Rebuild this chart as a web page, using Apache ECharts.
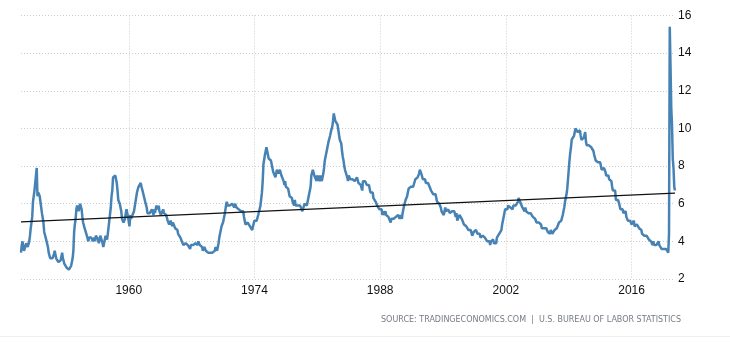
<!DOCTYPE html>
<html>
<head>
<meta charset="utf-8">
<script src="https://cdn.jsdelivr.net/npm/echarts@6/dist/echarts.min.js"></script>
<style>
html,body{margin:0;padding:0;background:#fff;}
#c{width:730px;height:343px;}
</style>
</head>
<body>
<div id="c"></div>
<script>
// Monthly US unemployment rate (%), Jan 1948 - Nov 2020
const startYear = 1948;
const r1940s = [
 3.4,3.8,4.0,3.9,3.5,3.6,3.6,3.9,3.8,3.7,3.8,4.0,
 4.3,4.7,5.0,5.3,6.1,6.2,6.7,6.8,6.6,7.9,6.4,6.6];
const r1950s = [
 6.5,6.4,6.3,5.8,5.5,5.4,5.0,4.5,4.4,4.2,4.2,4.3,
 3.7,3.4,3.4,3.1,3.0,3.2,3.1,3.1,3.3,3.5,3.5,3.1,
 3.2,3.1,2.9,2.9,3.0,3.0,3.2,3.4,3.1,3.0,2.8,2.7,
 2.9,2.6,2.6,2.7,2.5,2.5,2.6,2.7,2.9,3.1,3.5,4.5,
 4.9,5.2,5.7,5.9,5.9,5.6,5.8,6.0,6.1,5.7,5.3,5.0,
 4.9,4.7,4.6,4.7,4.3,4.2,4.0,4.2,4.1,4.3,4.2,4.2,
 4.0,3.9,4.2,4.0,4.3,4.3,4.4,4.1,3.9,3.9,4.3,4.2,
 4.2,3.9,3.7,3.9,4.1,4.3,4.2,4.1,4.4,4.5,5.1,5.2,
 5.8,6.4,6.7,7.4,7.4,7.3,7.5,7.4,7.1,6.7,6.2,6.2,
 6.0,5.9,5.6,5.2,5.1,5.0,5.1,5.2,5.5,5.7,5.8,5.3];
const r1960s = [
 5.2,4.8,5.4,5.2,5.1,5.4,5.5,5.6,5.5,6.1,6.1,6.6,
 6.6,6.9,6.9,7.0,7.1,6.9,7.0,6.6,6.7,6.5,6.1,6.0,
 5.8,5.5,5.6,5.6,5.5,5.5,5.4,5.7,5.6,5.4,5.7,5.5,
 5.7,5.9,5.7,5.7,5.9,5.6,5.6,5.4,5.5,5.5,5.7,5.5,
 5.6,5.4,5.4,5.3,5.1,5.2,4.9,5.0,5.1,5.1,4.8,5.0,
 4.9,5.1,4.7,4.8,4.6,4.6,4.4,4.4,4.3,4.2,4.1,4.0,
 4.0,3.8,3.8,3.8,3.9,3.8,3.8,3.8,3.7,3.7,3.6,3.8,
 3.9,3.8,3.8,3.8,3.8,3.9,3.8,3.8,3.8,4.0,3.9,3.8,
 3.7,3.8,3.7,3.5,3.5,3.7,3.7,3.5,3.4,3.4,3.4,3.4,
 3.4,3.4,3.4,3.4,3.4,3.5,3.5,3.5,3.7,3.7,3.5,3.5];
const r1970s = [
 3.9,4.2,4.4,4.6,4.8,4.9,5.0,5.1,5.4,5.5,5.9,6.1,
 5.9,5.9,6.0,5.9,5.9,5.9,6.0,6.1,6.0,5.8,6.0,6.0,
 5.8,5.7,5.8,5.7,5.7,5.7,5.6,5.6,5.5,5.6,5.3,5.2,
 4.9,5.0,4.9,5.0,4.9,4.9,4.8,4.8,4.8,4.6,4.8,4.9,
 5.1,5.2,5.1,5.1,5.1,5.4,5.5,5.5,5.9,6.0,6.6,7.2,
 8.1,8.1,8.6,8.8,9.0,8.8,8.6,8.4,8.4,8.4,8.3,8.2,
 7.9,7.7,7.6,7.7,7.4,7.6,7.8,7.8,7.6,7.7,7.8,7.8,
 7.5,7.6,7.4,7.2,7.0,7.2,6.9,7.0,6.8,6.8,6.8,6.4,
 6.4,6.3,6.3,6.1,6.0,5.9,6.2,5.9,6.0,5.8,5.9,6.0,
 5.9,5.9,5.8,5.8,5.6,5.7,5.7,6.0,5.9,6.0,5.9,6.0];
const r1980s = [
 6.3,6.3,6.3,6.9,7.5,7.6,7.8,7.7,7.5,7.5,7.5,7.2,
 7.5,7.4,7.4,7.2,7.5,7.5,7.2,7.4,7.6,7.9,8.3,8.5,
 8.6,8.9,9.0,9.3,9.4,9.6,9.8,9.8,10.1,10.4,10.8,10.8,
 10.4,10.4,10.3,10.2,10.1,10.1,9.4,9.5,9.2,8.8,8.5,8.3,
 8.0,7.8,7.8,7.7,7.4,7.2,7.5,7.5,7.3,7.4,7.2,7.3,
 7.3,7.2,7.2,7.3,7.2,7.4,7.4,7.1,7.1,7.1,7.0,7.0,
 6.7,7.2,7.2,7.1,7.2,7.2,7.0,6.9,7.0,7.0,6.9,6.6,
 6.6,6.6,6.6,6.3,6.3,6.2,6.1,6.0,5.9,6.0,5.8,5.7,
 5.7,5.7,5.7,5.4,5.6,5.4,5.4,5.6,5.4,5.4,5.3,5.3,
 5.4,5.2,5.0,5.2,5.2,5.3,5.2,5.2,5.3,5.3,5.4,5.4];
const r1990s = [
 5.4,5.3,5.2,5.4,5.4,5.2,5.5,5.7,5.9,5.9,6.2,6.3,
 6.4,6.6,6.8,6.7,6.9,6.9,6.8,6.9,6.9,7.0,7.0,7.3,
 7.3,7.4,7.4,7.4,7.6,7.8,7.7,7.6,7.6,7.3,7.4,7.4,
 7.3,7.1,7.0,7.1,7.1,7.0,6.9,6.8,6.7,6.8,6.6,6.5,
 6.6,6.6,6.5,6.4,6.1,6.1,6.1,6.0,5.9,5.8,5.6,5.5,
 5.6,5.4,5.4,5.8,5.6,5.6,5.7,5.7,5.6,5.5,5.6,5.6,
 5.6,5.5,5.5,5.6,5.6,5.3,5.5,5.1,5.2,5.2,5.4,5.4,
 5.3,5.2,5.2,5.1,4.9,5.0,4.9,4.8,4.9,4.7,4.6,4.7,
 4.6,4.6,4.7,4.3,4.4,4.5,4.5,4.5,4.6,4.5,4.4,4.4,
 4.3,4.4,4.2,4.3,4.2,4.3,4.3,4.2,4.2,4.1,4.1,4.0];
const r2000s = [
 4.0,4.1,4.0,3.8,4.0,4.0,4.0,4.1,3.9,3.9,3.9,3.9,
 4.2,4.2,4.3,4.4,4.3,4.5,4.6,4.9,5.0,5.3,5.5,5.7,
 5.7,5.7,5.7,5.9,5.8,5.8,5.8,5.7,5.7,5.7,5.9,6.0,
 5.8,5.9,5.9,6.0,6.1,6.3,6.2,6.1,6.1,6.0,5.8,5.7,
 5.7,5.6,5.8,5.6,5.6,5.6,5.5,5.4,5.4,5.5,5.4,5.4,
 5.3,5.4,5.2,5.2,5.1,5.0,5.0,4.9,5.0,5.0,5.0,4.9,
 4.7,4.8,4.7,4.7,4.6,4.6,4.7,4.7,4.5,4.4,4.5,4.4,
 4.6,4.5,4.4,4.5,4.4,4.6,4.7,4.6,4.7,4.7,4.7,5.0,
 5.0,4.9,5.1,5.0,5.4,5.6,5.8,6.1,6.1,6.5,6.8,7.3,
 7.8,8.3,8.7,9.0,9.4,9.5,9.5,9.6,9.8,10.0,9.9,9.9];
const r2010s = [
 9.8,9.8,9.9,9.9,9.6,9.4,9.4,9.5,9.5,9.4,9.8,9.3,
 9.1,9.0,9.0,9.1,9.0,9.1,9.0,9.0,9.0,8.8,8.6,8.5,
 8.3,8.3,8.2,8.2,8.2,8.2,8.2,8.0,7.8,7.8,7.7,7.9,
 8.0,7.7,7.5,7.6,7.5,7.5,7.3,7.2,7.2,7.2,6.9,6.7,
 6.6,6.7,6.7,6.2,6.3,6.1,6.2,6.1,5.9,5.7,5.8,5.6,
 5.7,5.5,5.4,5.4,5.6,5.3,5.2,5.1,5.0,5.0,5.1,5.0,
 4.9,4.9,5.0,5.1,4.8,4.9,4.8,4.9,5.0,4.9,4.7,4.7,
 4.7,4.6,4.4,4.4,4.4,4.3,4.3,4.4,4.3,4.2,4.2,4.1,
 4.0,4.1,4.0,4.0,3.8,4.0,3.8,3.8,3.7,3.8,3.8,3.9,
 4.0,3.8,3.8,3.7,3.6,3.6,3.7,3.6,3.5,3.6,3.6,3.6];
const r2020s = [3.5,3.4,4.4,15.4,13.3,11.1,10.2,8.4,7.9,6.9,6.7];

const rates = [].concat(r1940s, r1950s, r1960s, r1970s, r1980s, r1990s, r2000s, r2010s, r2020s);
const months = rates.map((_, i) => {
  const y = startYear + Math.floor(i / 12);
  const m = (i % 12) + 1;
  return y + '-' + (m < 10 ? '0' + m : m);
});
const trendEnds = [5.03, 6.56];
const tickYears = [1960, 1974, 1988, 2002, 2016];
const yTicks = [2, 4, 6, 8, 10, 12, 14, 16];

function isTick(index, value) {
  const y = parseInt(value.slice(0, 4), 10);
  return value.slice(5) === '01' && tickYears.indexOf(y) >= 0;
}

const chart = echarts.init(document.getElementById('c'), null, {renderer: 'canvas'});
chart.setOption({
  animation: false,
  backgroundColor: '#fff',
  grid: {left: 21, right: 55, top: 15.5, bottom: 64, containLabel: false},
  xAxis: {
    type: 'category',
    data: months,
    boundaryGap: false,
    axisLine: {show: false},
    axisTick: {show: false},
    axisLabel: {
      interval: isTick,
      formatter: v => v.slice(0, 4),
      color: '#111',
      fontFamily: 'Liberation Sans, Arial, sans-serif',
      fontSize: 12,
      margin: 6
    },
    splitLine: {
      show: true,
      interval: isTick,
      lineStyle: {color: '#cccccc', type: [1, 2], width: 1}
    }
  },
  yAxis: {
    type: 'value',
    position: 'right',
    min: yTicks[0],
    max: yTicks[yTicks.length - 1],
    interval: 2,
    axisLine: {show: false},
    axisTick: {show: false},
    axisLabel: {
      color: '#111',
      fontFamily: 'Liberation Sans, Arial, sans-serif',
      fontSize: 12,
      margin: 3
    },
    splitLine: {lineStyle: {color: '#cccccc', type: [1, 2], width: 1}}
  },
  series: [
    {
      type: 'line',
      data: rates,
      symbol: 'none',
      lineStyle: {color: '#4682b4', width: 2.5},
      itemStyle: {color: '#4682b4'}
    },
    {
      type: 'line',
      data: [[0, trendEnds[0]], [rates.length - 1, trendEnds[1]]],
      symbol: 'none',
      lineStyle: {color: '#111', width: 1.2},
      z: 3
    }
  ],
  graphic: [
    {
      type: 'text',
      left: 381,
      top: 316,
      style: {
        text: 'SOURCE: TRADINGECONOMICS.COM  |  U.S. BUREAU OF LABOR STATISTICS',
        fill: '#767b85',
        font: '8px "DejaVu Sans", Verdana, sans-serif'
      }
    },
    {
      type: 'line',
      shape: {x1: 0, y1: 336.5, x2: 730, y2: 336.5},
      style: {stroke: '#eeeeee', lineWidth: 1}
    }
  ]
});
</script>
</body>
</html>
